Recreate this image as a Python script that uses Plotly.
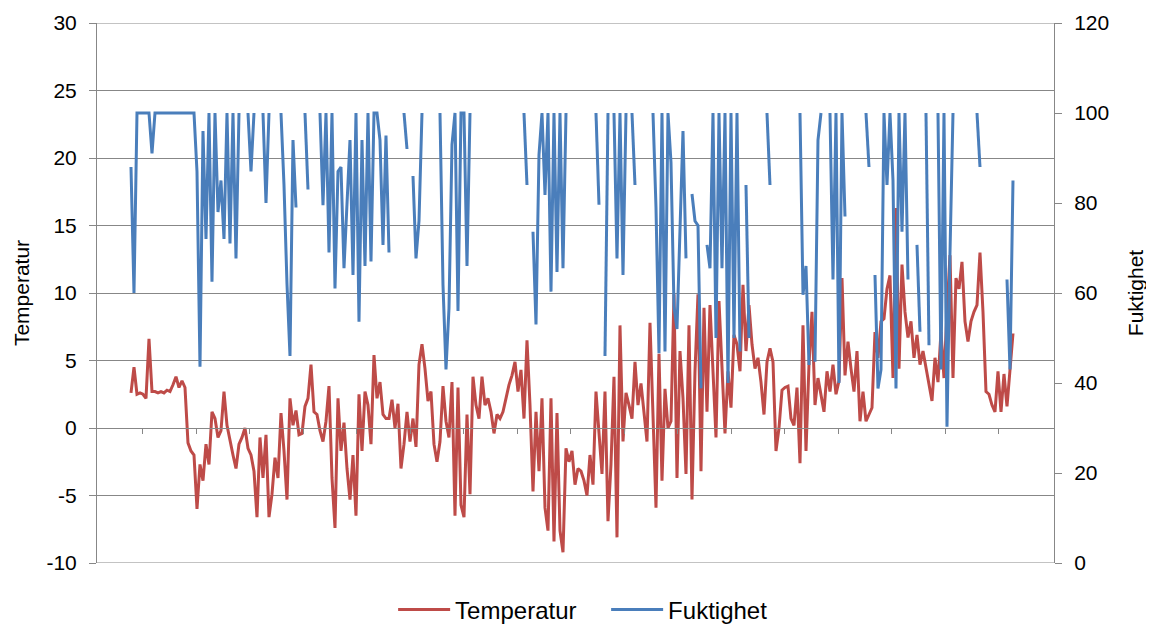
import plotly.graph_objects as go

# Temperature series (one value per observation, in order)
temperatur = [
    2.6, 4.5, 2.5, 2.6, 2.5, 2.2, 6.6, 2.7, 2.7, 2.6,
    2.7, 2.6, 2.8, 2.7, 3.2, 3.8, 3.0, 3.5, 3.0, -1.1,
    -1.7, -2.0, -6.0, -2.7, -3.9, -1.2, -2.7, 1.2, 0.7, -0.7,
    -0.2, 2.7, 0.2, -1.0, -2.0, -3.0, -1.2, -0.7, 0.0, -1.5,
    -2.0, -3.2, -6.6, -0.7, -3.7, -0.5, -6.6, -4.9, -2.2, -3.7,
    1.1, -1.7, -5.3, 2.2, 0.2, 1.3, -0.5, -0.4, 1.6, 2.2,
    4.7, 1.2, 1.0, -0.2, -1.0, 0.5, 3.1, -3.7, -7.4, 2.2,
    -1.7, 0.4, -3.0, -5.3, -2.0, -6.5, 2.5, -1.7, 2.7, 1.7,
    -1.2, 5.4, 2.2, 3.4, 1.0, 0.7, 0.7, 2.1, 0.0, 1.8,
    -3.0, -1.2, 1.2, -1.0, 0.7, -1.4, 4.7, 6.2, 4.4, 2.0,
    2.7, -1.2, -2.5, -1.0, 3.1, 0.5, -0.7, 3.4, -6.5, 3.0,
    -5.7, -6.6, 1.0, -4.9, 3.8, 1.7, 0.7, 3.8, 1.7, 2.2,
    1.2, -0.4, 1.0, 0.7, 1.2, 2.2, 3.2, 3.9, 4.9, 2.7,
    4.3, 0.7, 6.5, 1.7, -4.7, 1.2, -3.2, 2.2, -5.9, -7.6,
    2.2, -8.4, 1.1, -7.6, -9.2, -1.5, -2.5, -1.7, -4.2, -3.0,
    -3.2, -3.9, -5.0, -2.0, -4.2, 2.7, -0.7, -3.4, 2.7, -6.9,
    -2.7, 3.8, -8.1, 7.6, -1.0, 2.6, 1.7, 0.7, 4.9, 1.7,
    3.3, 1.2, -1.0, 7.8, 1.0, -5.9, 5.5, -3.9, 2.9, 0.0,
    0.5, 9.9, -3.7, 5.7, 2.2, -3.4, 7.6, -5.3, 4.2, 9.9,
    -3.2, 8.9, 1.2, 9.1, 4.2, -0.7, 9.4, 4.2, -0.4, 4.2,
    1.5, 6.9, 6.2, 4.2, 10.6, 5.7, 9.1, 6.2, 4.4, 5.2,
    3.4, 1.0, 4.9, 5.9, 4.9, -1.7, 0.0, 2.8, 3.0, 3.1,
    0.7, 0.2, 3.0, -2.6, 7.6, -1.7, 4.7, 8.6, 1.7, 3.7,
    2.5, 1.2, 4.2, 2.7, 4.7, 2.5, 3.5, 11.1, 3.9, 6.4,
    4.4, 2.7, 5.7, 0.5, 2.7, 0.5, 1.0, 1.5, 7.1, 5.2,
    7.9, 8.1, 10.3, 11.3, 3.7, 16.3, 4.4, 12.1, 8.6, 6.7,
    7.9, 5.2, 6.9, 4.7, 5.7, 4.4, 3.2, 2.0, 5.2, 3.4,
    7.1, 3.7, 8.6, 12.8, 3.7, 11.1, 10.3, 12.3, 7.9, 6.4,
    7.9, 8.6, 9.1, 13.0, 8.6, 2.7, 2.5, 1.7, 1.2, 4.2,
    1.2, 4.0, 1.6, 4.2, 7.0,
]

# Humidity series (None = missing reading)
N = None
fuktighet = [
    88, 60, 100, 100, 100, 100, 100, 91, 100, 100,
    100, 100, 100, 100, 100, 100, 100, 100, 100, 100,
    100, 100, 87, 43.6, 96, 72, 100, 62.5, 100, 78,
    85, 72, 100, 71, 100, 67.7, 100, N, N, 100,
    87, 100, N, N, 100, 80, 100, N, N, N,
    100, 84, 62, 46, 94, 79, N, N, 100, 83,
    N, N, N, 100, 79.5, 100, 69, 100, 61, 87,
    88, 65.5, 79, 94, 64, 100, 53.6, 94, 66, 100,
    67, 100, 100, 94, 70.7, 95, 69, N, N, N,
    N, 100, 92, N, 86, 67.7, 76, 100, N, N,
    N, N, N, 100, 61.8, 43, 56.6, 93, 100, 56,
    100, 100, 66, 100, N, N, N, N, N, N,
    N, N, N, N, N, N, N, N, N, N,
    N, 100, 84, N, 73.6, 53, 90.7, 100, 81.8, 100,
    60.3, 100, 64.7, 100, 65.5, 100, N, N, N, N,
    N, N, N, N, N, 100, 79.6, N, 46, 100,
    N, 100, 67.7, 100, 64, 100, N, 100, 84, N,
    N, N, N, N, 100, 79, 46.6, 100, 47, 100,
    89, 57, 52, 76, 96, 67.7, N, 82, 76, 75,
    38.8, N, 70.7, 65.5, 100, 50, 100, 65.5, 100, 40,
    100, 50, 100, 47, N, 84, 50, N, N, N,
    N, N, 100, 84, N, N, N, N, N, N,
    N, N, N, 100, 59.6, 66, 44, N, 44.7, 94,
    100, N, N, 100, 63, 100, 40, 100, 77, N,
    N, N, N, N, N, 100, 88, N, 64, 38.8,
    43, 100, 84, 100, 85, 38.8, 100, 73.6, 100, 63,
    N, N, 70.7, 51.4, N, 100, 48.4, N, N, 100,
    43, 100, 30.3, 69, 100, N, N, N, N, N,
    N, N, 100, 88, N, N, N, N, N, N,
    N, N, 63, 43, 85,
]

obs = list(range(len(temperatur)))

# Category-axis tick marks (every ~17.8 observations, no labels)
tick_first = 4.0
tick_every = 17.83
tick_count = 17
x_ticks = [tick_first + k * tick_every for k in range(tick_count)]

temp_ticks = [-10, -5, 0, 5, 10, 15, 20, 25, 30]
temp_labels = ["-10", "-5", "0", "5", "10", "15", "20", "25", "30"]
fukt_ticks = [0, 20, 40, 60, 80, 100, 120]
fukt_labels = ["0", "20", "40", "60", "80", "100", "120"]

FONT = "Liberation Sans, Arial, sans-serif"
GRID = "#878787"
RED = "#BE4B48"
BLUE = "#4A7EBB"

fig = go.Figure()
fig.add_trace(go.Scatter(
    x=obs, y=temperatur, name="Temperatur", mode="lines",
    line=dict(color=RED, width=3), yaxis="y",
))
fig.add_trace(go.Scatter(
    x=list(range(len(fuktighet))), y=fuktighet, name="Fuktighet", mode="lines",
    line=dict(color=BLUE, width=3), yaxis="y2", connectgaps=False,
))

# top and bottom frame gridlines (at 30 and -10)
for yv in (temp_ticks[0], temp_ticks[-1]):
    fig.add_shape(type="line", xref="paper", x0=0, x1=1, yref="y", y0=yv, y1=yv,
                  line=dict(color=GRID, width=1), layer="below")

# the page body adds an 8 px offset, so the figure is 8 px smaller
fig.update_layout(
    width=1146, height=619,
    margin=dict(l=89, r=100, t=15, b=64, autoexpand=False),
    paper_bgcolor="white", plot_bgcolor="white",
    font=dict(family=FONT, size=21, color="#000000"),
    showlegend=True,
    legend=dict(orientation="h", x=0.532, xanchor="center", y=-0.087, yanchor="middle",
                font=dict(size=24), itemwidth=52, traceorder="normal",
                entrywidth=146, entrywidthmode="pixels"),
    xaxis=dict(
        range=[-11.33, 307.67], showgrid=False, zeroline=False, automargin=False,
        showticklabels=False, tickvals=x_ticks, ticks="outside", ticklen=5,
        tickcolor=GRID, showline=True, linecolor=GRID, linewidth=1,
        anchor="free", position=0.25,
    ),
    yaxis=dict(
        range=[-10, 30], tickvals=temp_ticks, ticktext=temp_labels,
        showgrid=True, gridcolor=GRID, automargin=False,
        gridwidth=1, zeroline=False, showline=True, linecolor=GRID,
        ticks="outside", ticklen=7, tickcolor=GRID, ticklabelstandoff=8,
        title=dict(text="Temperatur", standoff=11, font=dict(size=21)),
    ),
    yaxis2=dict(
        range=[0, 120], tickvals=fukt_ticks, ticktext=fukt_labels,
        overlaying="y", side="right", automargin=False,
        showgrid=False, zeroline=False, showline=True, linecolor=GRID,
        ticks="outside", ticklen=7, tickcolor=GRID, ticklabelstandoff=8,
        title=dict(text="Fuktighet", standoff=20, font=dict(size=21)),
    ),
)

fig.write_html("out.html", config={"displayModeBar": False})
